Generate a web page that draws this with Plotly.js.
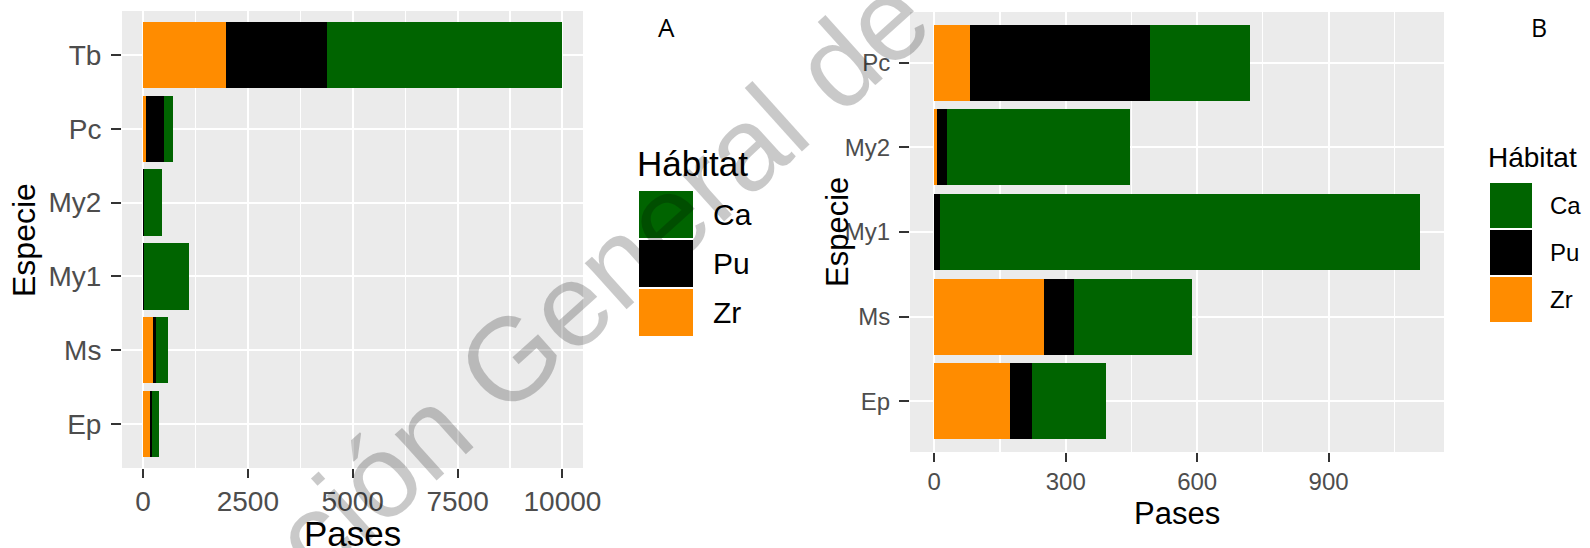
<!DOCTYPE html>
<html>
<head>
<meta charset="utf-8">
<script src="https://cdn.plot.ly/plotly-3.0.1.min.js"></script>
<style>
  html, body { margin: 0; padding: 0; background: #ffffff; }
  #chart { width: 1590px; height: 548px; }
</style>
</head>
<body>
<div id="chart"></div>
<script>
// Pases por especie y hábitat (valores apilados)
const species = ['Ep', 'Ms', 'My1', 'My2', 'Pc', 'Tb'];
const zr = [173, 250, 0, 7, 81, 1980];
const pu = [50, 69, 14, 23, 411, 2400];
const ca = [168, 269, 1094, 417, 228, 5610];

const habitats = ['Zr', 'Pu', 'Ca'];            // stacking order, left to right
const habitatColors = { Ca: '#006400', Pu: '#000000', Zr: '#FF8C00' };
const legendOrder = ['Ca', 'Pu', 'Zr'];
const seriesByHabitat = { Zr: zr, Pu: pu, Ca: ca };

// Panel B leaves out Tb
const speciesB = species.filter(s => s !== 'Tb');

const W = 1590, H = 548;
const px = x => x / W;
const py = y => 1 - y / H;

const FONT = 'Liberation Sans, Arial, sans-serif';
const TICK_GREY = '#4D4D4D';

function pick(arr, keep) {
  return species.map((s, i) => [s, arr[i]]).filter(d => keep.includes(d[0]));
}

const traces = [];
[['x', 'y', species], ['x2', 'y2', speciesB]].forEach(([xa, ya, keep]) => {
  habitats.forEach(h => {
    const rows = pick(seriesByHabitat[h], keep);
    traces.push({
      type: 'bar',
      orientation: 'h',
      name: h,
      x: rows.map(r => r[1]),
      y: rows.map(r => r[0]),
      xaxis: xa,
      yaxis: ya,
      marker: { color: habitatColors[h], line: { width: 0 } },
      showlegend: false,
      hoverinfo: 'x+y+name'
    });
  });
});

function totalsFor(keep) {
  return keep.map(s => {
    const i = species.indexOf(s);
    return zr[i] + pu[i] + ca[i];
  });
}
const maxA = Math.max(...totalsFor(species));
const maxB = Math.max(...totalsFor(speciesB));

function xAxisStyle(dtick, fontSize) {
  return {
    tick0: 0,
    dtick: dtick,
    tickformat: 'd',
    ticks: 'outside',
    ticklen: 9,
    tickwidth: 2,
    tickcolor: '#333333',
    showgrid: true,
    gridcolor: '#FFFFFF',
    gridwidth: 2,
    minor: { dtick: dtick / 2, tick0: 0, showgrid: true, gridcolor: '#FFFFFF', gridwidth: 1.2, ticks: '' },
    zeroline: false,
    showline: false,
    tickfont: { family: FONT, size: fontSize, color: TICK_GREY },
    ticklabelstandoff: -1,
    fixedrange: true
  };
}
function yAxisStyle(cats, fontSize) {
  return {
    type: 'category',
    categoryorder: 'array',
    categoryarray: cats,
    range: [-0.6, cats.length - 0.4],
    ticks: 'outside',
    ticklen: 10,
    tickwidth: 2,
    tickcolor: '#333333',
    showgrid: true,
    gridcolor: '#FFFFFF',
    gridwidth: 2,
    zeroline: false,
    showline: false,
    tickfont: { family: FONT, size: fontSize, color: TICK_GREY },
    ticklabelstandoff: 4,
    fixedrange: true
  };
}

const layout = {
  width: W,
  height: H,
  margin: { l: 0, r: 0, t: 0, b: 0 },
  paper_bgcolor: '#FFFFFF',
  plot_bgcolor: '#EBEBEB',
  barmode: 'stack',
  bargap: 0.1,
  showlegend: false,
  xaxis: Object.assign(xAxisStyle(2500, 28), {
    domain: [px(122), px(583)], anchor: 'y',
    range: [-0.05 * maxA, 1.05 * maxA]
  }),
  yaxis: Object.assign(yAxisStyle(species, 28), {
    domain: [py(468), py(11)], anchor: 'x'
  }),
  xaxis2: Object.assign(xAxisStyle(300, 24), {
    domain: [px(910), px(1444)], anchor: 'y2',
    range: [-0.05 * maxB, 1.05 * maxB]
  }),
  yaxis2: Object.assign(yAxisStyle(speciesB, 24), {
    domain: [py(452), py(12)], anchor: 'x2'
  }),
  annotations: [],
  shapes: []
};

function text(str, x, y, size, opts) {
  layout.annotations.push(Object.assign({
    text: str, xref: 'paper', yref: 'paper', x: px(x), y: py(y),
    xanchor: 'center', yanchor: 'middle', showarrow: false,
    font: { family: FONT, size: size, color: '#000000' }
  }, opts || {}));
}

// Axis titles
text('Pases', 352, 533, 35);
text('Especie', 24, 240, 32, { textangle: -90 });
text('Pases', 1177, 513, 31);
text('Especie', 838, 232, 31, { textangle: -90 });

// Panel letters
const LETTER_FONT = 'Open Sans, Liberation Sans, sans-serif';
text('A', 666, 27, 26, { font: { family: LETTER_FONT, size: 26, color: '#000000' } });
text('B', 1539, 27, 25, { font: { family: LETTER_FONT, size: 25, color: '#000000' } });

// Legends drawn as keys + labels
function legend(x0, titleY, keyTop, keyW, keyH, gap, labelX, titleSize, labelSize) {
  text('Hábitat', x0, titleY, titleSize, { xanchor: 'left' });
  legendOrder.forEach((h, i) => {
    const top = keyTop + i * (keyH + gap);
    layout.shapes.push({
      type: 'rect', xref: 'paper', yref: 'paper',
      x0: px(x0 + 4), x1: px(x0 + 4 + keyW), y0: py(top + keyH), y1: py(top),
      fillcolor: habitatColors[h], line: { width: 0 }
    });
    text(h, labelX, top + keyH / 2, labelSize, { xanchor: 'left' });
  });
}
legend(635, 163, 191, 54, 47, 2, 711, 35, 30);
legend(1486, 158, 183, 42, 45, 2, 1548, 28, 24);

// Watermark across the figure
text('ción General de', 600, 278, 118, {
  textangle: -42,
  font: { family: FONT, size: 118, color: 'rgba(0,0,0,0.21)' }
});

Plotly.newPlot('chart', traces, layout, { displayModeBar: false, staticPlot: true });
</script>
</body>
</html>
